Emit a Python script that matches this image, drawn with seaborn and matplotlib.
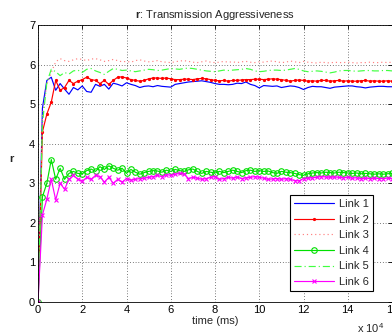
import numpy as np
import pandas as pd
import matplotlib
matplotlib.use("Agg")
import matplotlib.pyplot as plt
import seaborn as sns
from matplotlib.ticker import FuncFormatter

# --- datos (muestreo cada 2000 ms) ---
tiempo = np.arange(0, 160001, 2000)

link1 = [0, 4.9, 5.6, 5.68, 5.35, 5.52, 5.38, 5.25, 5.42, 5.36,
         5.46, 5.32, 5.3, 5.5, 5.45, 5.5, 5.38, 5.53, 5.5, 5.46,
         5.54, 5.5, 5.47, 5.42, 5.45, 5.46, 5.44, 5.47, 5.45, 5.44,
         5.43, 5.5, 5.52, 5.54, 5.56, 5.57, 5.58, 5.59, 5.57, 5.55,
         5.52, 5.5, 5.5, 5.49, 5.5, 5.53, 5.52, 5.56, 5.5, 5.47,
         5.41, 5.47, 5.46, 5.45, 5.46, 5.42, 5.44, 5.46, 5.45, 5.42,
         5.37, 5.42, 5.45, 5.44, 5.44, 5.42, 5.4, 5.43, 5.44, 5.45,
         5.46, 5.46, 5.44, 5.43, 5.41, 5.43, 5.44, 5.45, 5.45, 5.44, 5.44]

link2 = [0, 4.3, 4.75, 5.05, 5.6, 5.35, 5.42, 5.6, 5.52, 5.58,
         5.62, 5.68, 5.62, 5.6, 5.52, 5.6, 5.5, 5.6, 5.68, 5.69,
         5.66, 5.62, 5.6, 5.58, 5.6, 5.64, 5.66, 5.66, 5.65, 5.66,
         5.64, 5.62, 5.62, 5.63, 5.63, 5.62, 5.64, 5.65, 5.64, 5.62,
         5.6, 5.59, 5.6, 5.58, 5.6, 5.6, 5.61, 5.62, 5.62, 5.63,
         5.63, 5.62, 5.63, 5.64, 5.63, 5.62, 5.6, 5.58, 5.6, 5.61,
         5.6, 5.58, 5.59, 5.58, 5.6, 5.6, 5.58, 5.59, 5.6, 5.58,
         5.59, 5.58, 5.58, 5.59, 5.6, 5.58, 5.59, 5.58, 5.58, 5.59, 5.58]

link3 = [0, 4.7, 5.5, 5.8, 6.07, 6.15, 6.1, 6.08, 6.12, 6.15,
         6.13, 6.1, 6.14, 6.15, 6.12, 6.08, 6.1, 6.13, 6.1, 6.07,
         6.08, 6.06, 6.1, 6.12, 6.09, 6.07, 6.08, 6.1, 6.07, 6.06,
         6.05, 6.07, 6.09, 6.1, 6.08, 6.06, 6.05, 6.07, 6.09, 6.06,
         6.05, 6.06, 6.08, 6.06, 6.07, 6.05, 6.07, 6.08, 6.06, 6.05,
         6.07, 6.06, 6.08, 6.09, 6.07, 6.05, 6.06, 6.09, 6.07, 6.05,
         6.08, 6.06, 6.05, 6.04, 6.06, 6.05, 6.04, 6.06, 6.05, 6.05,
         6.06, 6.05, 6.04, 6.05, 6.05, 6.06, 6.05, 6.05, 6.06, 6.05, 6.06]

link4 = [0, 2.66, 3.0, 3.6, 3.1, 3.38, 3.1, 3.25, 3.3, 3.25,
         3.24, 3.32, 3.36, 3.3, 3.42, 3.35, 3.44, 3.38, 3.33, 3.38,
         3.25, 3.35, 3.28, 3.23, 3.27, 3.3, 3.32, 3.31, 3.28, 3.33,
         3.3, 3.35, 3.32, 3.3, 3.34, 3.36, 3.3, 3.25, 3.3, 3.28,
         3.26, 3.3, 3.27, 3.3, 3.33, 3.3, 3.27, 3.32, 3.33, 3.3,
         3.32, 3.3, 3.31, 3.27, 3.25, 3.3, 3.28, 3.27, 3.25, 3.22,
         3.2, 3.24, 3.26, 3.27, 3.26, 3.28, 3.27, 3.26, 3.28, 3.27,
         3.26, 3.25, 3.26, 3.24, 3.25, 3.24, 3.23, 3.24, 3.23, 3.24, 3.25]

link5 = [0, 4.5, 5.55, 5.88, 5.82, 5.72, 5.8, 5.76, 5.84, 5.86,
         5.8, 5.88, 5.9, 5.84, 5.8, 5.75, 5.83, 5.9, 5.88, 5.85,
         5.86, 5.84, 5.82, 5.84, 5.86, 5.88, 5.87, 5.85, 5.86, 5.88,
         5.9, 5.89, 5.88, 5.9, 5.91, 5.9, 5.88, 5.86, 5.84, 5.83,
         5.82, 5.84, 5.86, 5.85, 5.86, 5.87, 5.88, 5.9, 5.88, 5.84,
         5.82, 5.83, 5.85, 5.86, 5.86, 5.85, 5.86, 5.88, 5.9, 5.88,
         5.84, 5.82, 5.83, 5.84, 5.83, 5.81, 5.79, 5.81, 5.84, 5.85,
         5.85, 5.84, 5.83, 5.84, 5.85, 5.85, 5.84, 5.84, 5.85, 5.85, 5.84]

link6 = [0, 2.2, 2.6, 3.1, 2.58, 3.0, 2.85, 3.1, 3.2, 3.1,
         3.05, 3.15, 3.1, 3.2, 3.17, 3.03, 3.15, 3.0, 3.1, 3.03,
         3.12, 3.08, 3.1, 3.12, 3.13, 3.15, 3.17, 3.2, 3.17, 3.22,
         3.2, 3.23, 3.25, 3.24, 3.12, 3.15, 3.13, 3.1, 3.12, 3.15,
         3.17, 3.1, 3.12, 3.15, 3.13, 3.16, 3.12, 3.14, 3.15, 3.17,
         3.15, 3.13, 3.1, 3.11, 3.12, 3.1, 3.12, 3.1, 3.07, 3.06,
         3.12, 3.13, 3.14, 3.15, 3.17, 3.16, 3.15, 3.16, 3.15, 3.14,
         3.15, 3.13, 3.14, 3.12, 3.13, 3.12, 3.13, 3.12, 3.12, 3.13, 3.12]

nombres = ['Link 1', 'Link 2', 'Link 3', 'Link 4', 'Link 5', 'Link 6']
series = [link1, link2, link3, link4, link5, link6]

# estilos tipo MATLAB (linea) y marcadores aparte
colores = ['#0000ff', '#ff0000', '#ff8080', '#00e000', '#40ff40', '#ff00ff']
lineas = ['-', '-', (0, (1, 2.5)), '-', (0, (6, 2.5, 1, 2.5)), '-']
marcadores = [None, '.', None, 'o', None, 'x']
tam_marcador = [0, 3, 0, 4, 0, 3.5]

sns.set_style("white")
plt.rcParams['font.family'] = ['Liberation Sans', 'DejaVu Sans']
plt.rcParams['mathtext.fontset'] = 'custom'
plt.rcParams['mathtext.rm'] = 'Liberation Sans'
plt.rcParams['mathtext.bf'] = 'Liberation Sans:bold'

fig = plt.figure(figsize=(3.92, 3.35), dpi=100)
ax = fig.add_axes([38 / 392, 33 / 335, 354 / 392, 277 / 335])

for i, (nombre, valores) in enumerate(zip(nombres, series)):
    df = pd.DataFrame({'tiempo': tiempo, 'r': valores})
    sns.lineplot(data=df, x='tiempo', y='r', ax=ax, label=nombre,
                 color=colores[i], linestyle=lineas[i], lw=0.85)
    linea = ax.lines[-1]
    if marcadores[i] is not None:
        linea.set_marker(marcadores[i])
        linea.set_markersize(tam_marcador[i])
        linea.set_markeredgewidth(0.8)
        linea.set_markeredgecolor(colores[i])
        linea.set_markerfacecolor('none' if marcadores[i] == 'o' else colores[i])

ax.set_xlim(0, 160000)
ax.set_ylim(0, 7)
ax.set_xticks(np.arange(0, 160001, 20000))
ax.set_yticks(range(0, 8))
ax.xaxis.set_major_formatter(FuncFormatter(lambda v, p: f"{v / 1e4:g}"))
ax.tick_params(direction='in', length=3, width=0.6, labelsize=8,
               top=True, right=True, pad=2, colors='black')
ax.grid(True, color='black', linestyle=(0, (1, 3)), linewidth=0.5)
for s in ax.spines.values():
    s.set_color('black')
    s.set_linewidth(0.6)

ax.set_xlabel('time (ms)', fontsize=8, labelpad=1)
ax.set_ylabel('r', fontsize=8, fontweight='bold', rotation=0)
ax.yaxis.set_label_coords(-0.075, 0.5)
ax.set_title(r'$\mathbf{r}$: Transmission Aggressiveness', fontsize=8, pad=5)

fig.text(357 / 392, 1 - 328 / 335, 'x 10$^4$', fontsize=8, ha='left',
         va='center')

leg = ax.legend(loc='lower right', bbox_to_anchor=(0.946, 0.04),
                fontsize=8, frameon=True, fancybox=False, framealpha=1,
                edgecolor='black', borderpad=0.35, labelspacing=0.5,
                handlelength=3.6, handletextpad=0.5, borderaxespad=0)
leg.get_frame().set_linewidth(0.8)

fig.savefig('out.png', dpi=100)
print("Grafico 'out.png' guardado.")
